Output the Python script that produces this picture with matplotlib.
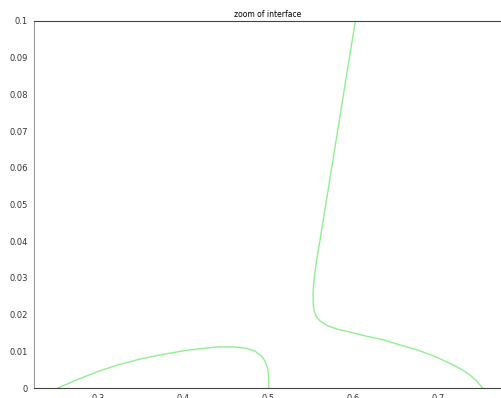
import matplotlib
matplotlib.use('Agg')
import matplotlib.pyplot as plt

# Interface curve near the wall
left_x = [0.253, 0.275, 0.30, 0.325, 0.35, 0.375, 0.40, 0.42, 0.44, 0.46, 0.475, 0.485,
          0.492, 0.496, 0.499, 0.5005, 0.501, 0.501]
left_y = [0.0, 0.0022, 0.0045, 0.0064, 0.0079, 0.0091, 0.0101, 0.0107, 0.0112, 0.0112,
          0.0108, 0.0100, 0.0088, 0.0075, 0.0058, 0.0040, 0.0015, 0.0]

right_x = [0.6027, 0.5957, 0.5887, 0.5818, 0.5748, 0.5679, 0.5609, 0.5572, 0.5543, 0.5530,
           0.5532, 0.5545, 0.5570, 0.5610, 0.5695, 0.5820, 0.5968, 0.6160, 0.6359, 0.6554,
           0.6750, 0.6950, 0.7141, 0.7280, 0.7375, 0.7450, 0.7492, 0.7519]
right_y = [0.1, 0.09, 0.08, 0.07, 0.06, 0.05, 0.04, 0.035, 0.030, 0.026,
           0.0225, 0.0208, 0.0194, 0.0183, 0.0170, 0.0160, 0.0152, 0.0141, 0.0131, 0.0117,
           0.0104, 0.0087, 0.0067, 0.0050, 0.0035, 0.0020, 0.0008, 0.0]

x_ticks = [0.3, 0.4, 0.5, 0.6, 0.7]
y_ticks = [0, 0.01, 0.02, 0.03, 0.04, 0.05, 0.06, 0.07, 0.08, 0.09, 0.1]
y_labels = ['0', '0.01', '0.02', '0.03', '0.04', '0.05', '0.06', '0.07', '0.08', '0.09', '0.1']

fig = plt.figure(figsize=(5.01, 3.98), dpi=100)
ax = fig.add_axes([34 / 501, 10 / 398, 468 / 501, 367 / 398])

ax.plot(left_x, left_y, color='#90ee90', linewidth=1.0)
ax.plot(right_x, right_y, color='#90ee90', linewidth=1.0)

ax.set_xlim(0.225, 0.775)
ax.set_ylim(0, 0.1)
ax.set_xticks(x_ticks)
ax.set_xticklabels([str(t) for t in x_ticks])
ax.set_yticks(y_ticks)
ax.set_yticklabels(y_labels)
ax.tick_params(length=0, labelsize=6, pad=4.5, colors='#333333')

for side in ['top', 'bottom', 'right']:
    ax.spines[side].set_color('#444444')
ax.spines['left'].set_color('#999999')

ax.set_title('zoom of interface', fontsize=5.5, pad=3)

fig.savefig('out.png', dpi=100)
